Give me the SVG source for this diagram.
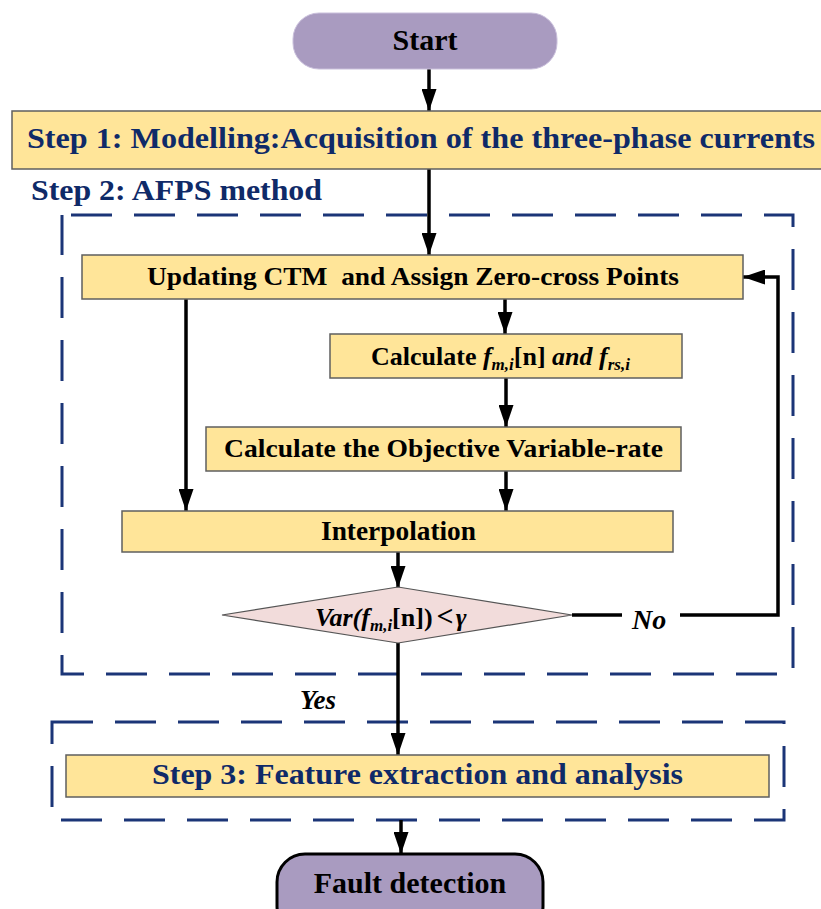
<svg xmlns="http://www.w3.org/2000/svg" width="821" height="909" viewBox="0 0 821 909">
  <defs>
    <marker id="arrow" viewBox="0 0 22 15" refX="22" refY="7.5" markerWidth="22" markerHeight="15" markerUnits="userSpaceOnUse" orient="auto">
      <path d="M0,0 L22,7.5 L0,15 Z" fill="#000"/>
    </marker>
    <style>
      .box { fill: #FFE599; stroke: #5f5f5f; stroke-width: 1.5; }
      .term { fill: #A99BC0; }
      .diam { fill: #F2DCDB; stroke: #555; stroke-width: 1.2; }
      .group { fill: none; stroke: #1B3577; stroke-width: 3; stroke-dasharray: 41 22; }
      .wire { fill: none; stroke: #000; stroke-width: 3.5; }
      .t { font-family: "Liberation Serif", "Times New Roman", serif; font-weight: bold; fill: #000; }
      .navy { fill: #0F2A68; }
      .it { font-style: italic; }
      .up { font-style: normal; }
    </style>
  </defs>

  <!-- dashed step frames -->
  <g id="frames">
    <path class="group" d="M62,215 H793 V674 H62 Z" stroke-dashoffset="54"/>
    <path class="group" d="M52,722 H784 V820 H52 Z"/>
  </g>

  <!-- connectors -->
  <g id="connectors">
    <line class="wire" x1="429" y1="69" x2="429" y2="111" marker-end="url(#arrow)"/>
    <line class="wire" x1="429" y1="169" x2="429" y2="255" marker-end="url(#arrow)"/>
    <line class="wire" x1="505" y1="299" x2="505" y2="334" marker-end="url(#arrow)"/>
    <line class="wire" x1="506" y1="378" x2="506" y2="427" marker-end="url(#arrow)"/>
    <line class="wire" x1="506" y1="471" x2="506" y2="511" marker-end="url(#arrow)"/>
    <line class="wire" x1="186" y1="299" x2="186" y2="511" marker-end="url(#arrow)"/>
    <line class="wire" x1="398" y1="552" x2="398" y2="588" marker-end="url(#arrow)"/>
    <line class="wire" x1="398" y1="643" x2="398" y2="755" marker-end="url(#arrow)"/>
    <line class="wire" x1="401" y1="820" x2="401" y2="854" marker-end="url(#arrow)"/>
    <!-- "No" feedback loop -->
    <line class="wire" x1="572" y1="615" x2="622" y2="615"/>
    <polyline class="wire" points="680,615 778,615 778,277 743,277" marker-end="url(#arrow)"/>
    <text class="t it" x="632" y="629" font-size="28">No</text>
    <text class="t it" x="300" y="709" font-size="27">Yes</text>
  </g>

  <g id="start">
    <rect class="term" x="293" y="13" width="264" height="56" rx="26" stroke="#c9bfdb" stroke-width="1"/>
    <text class="t" x="425" y="50" font-size="30" text-anchor="middle">Start</text>
  </g>

  <g id="step1">
    <rect class="box" x="12" y="111" width="830" height="58"/>
    <text class="t navy" x="27" y="148" font-size="30" textLength="788" lengthAdjust="spacingAndGlyphs">Step 1:  Modelling:Acquisition of the three-phase currents</text>
  </g>

  <g id="step2-label">
    <text class="t navy" x="31" y="200" font-size="30" textLength="291" lengthAdjust="spacingAndGlyphs">Step 2: AFPS method</text>
  </g>

  <g id="update">
    <rect class="box" x="82" y="255" width="661" height="44"/>
    <text class="t" x="147" y="285" font-size="26" textLength="532" lengthAdjust="spacingAndGlyphs" xml:space="preserve">Updating CTM  and Assign Zero-cross Points</text>
  </g>

  <g id="calc-f">
    <rect class="box" x="330" y="334" width="352" height="44"/>
    <text class="t" x="371" y="365" font-size="26">Calculate <tspan class="it">f</tspan><tspan class="it" font-size="17" dy="5">m,i</tspan><tspan dy="-5">[n] </tspan><tspan class="it">and f</tspan><tspan class="it" font-size="17" dy="5">rs,i</tspan></text>
  </g>

  <g id="objective">
    <rect class="box" x="206" y="427" width="475" height="44"/>
    <text class="t" x="224" y="457" font-size="26" textLength="439" lengthAdjust="spacingAndGlyphs">Calculate the Objective Variable-rate</text>
  </g>

  <g id="interp">
    <rect class="box" x="122" y="511" width="551" height="41"/>
    <text class="t" x="321" y="540" font-size="27" textLength="155" lengthAdjust="spacingAndGlyphs">Interpolation</text>
  </g>

  <g id="decision">
    <polygon class="diam" points="222,615 398,587 572,615 398,643"/>
    <text class="t it" x="315" y="626" font-size="26">Var(f<tspan font-size="17" dy="5">m,i</tspan><tspan class="up" dy="-5">[n])</tspan><tspan class="up" font-size="30" dx="4">&lt;</tspan><tspan dx="2">γ</tspan></text>
  </g>

  <g id="step3">
    <rect class="box" x="66" y="755" width="703" height="42"/>
    <text class="t navy" x="152" y="784" font-size="30" textLength="531" lengthAdjust="spacingAndGlyphs">Step 3: Feature extraction and analysis</text>
  </g>

  <g id="fault">
    <rect class="term" x="277" y="854" width="266" height="80" rx="28" stroke="#000" stroke-width="3"/>
    <text class="t" x="410" y="893" font-size="30" text-anchor="middle">Fault detection</text>
  </g>
</svg>
